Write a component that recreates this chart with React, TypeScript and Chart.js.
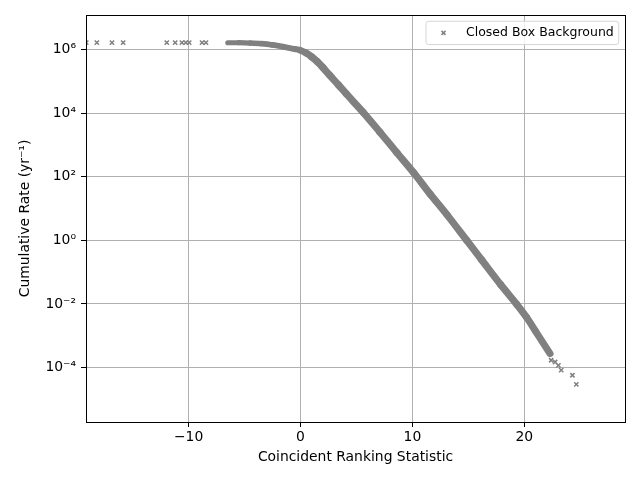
import React, { useEffect, useRef } from 'react';
import { Chart, registerables } from 'chart.js';

Chart.register(...registerables);

const SERIES_LABEL = 'Closed Box Background';
const X_TITLE = 'Coincident Ranking Statistic';
const Y_TITLE = 'Cumulative Rate (yr\u207B\u00B9)';

// dense part of the background
const bandX = [-6.5, -5.5, -4.5, -3.5, -2.5, -1.5, -0.5, 0, 0.5, 1.0, 1.5, 2.0, 2.6, 3.4, 4.1, 5.6, 7.1, 8.6, 10.1, 11.6, 13.1, 14.85, 16.2, 17.9, 19.3, 20.2, 21.0, 22.3];
const bandY = [1.62e6, 1.62e6, 1.58e6, 1.51e6, 1.38e6, 1.2e6, 1.02e6, 9.3e5, 7.66e5, 5.82e5, 4.11e5, 2.69e5, 1.55e5, 7.6e4, 3.98e4, 1.05e4, 2.5e3, 575, 135, 28, 6.3, 1.0, 0.24, 0.04, 0.01, 3.8e-3, 1.4e-3, 2.75e-4];

// isolated events on the left (low ranking statistic)
const leftX = [-19.15, -18.2, -16.85, -15.85, -11.95, -11.2, -10.6, -10.25, -9.95, -8.8, -8.45];
const leftY = [1.62e6, 1.62e6, 1.62e6, 1.62e6, 1.62e6, 1.62e6, 1.62e6, 1.62e6, 1.62e6, 1.62e6, 1.62e6];

// isolated events in the tail
const tailX = [22.4, 22.75, 23.05, 23.3, 24.3, 24.65];
const tailY = [1.7e-4, 1.5e-4, 1.17e-4, 8.3e-5, 5.75e-5, 2.95e-5];

const xTicks = [-10, 0, 10, 20];
const yTickExps = [-4, -2, 0, 2, 4, 6];

const X_MIN = -19.17;
const X_MAX = 29.0;
const Y_MIN = Math.pow(10, -5.71);
const Y_MAX = Math.pow(10, 7.08);

const GRAY = '#808080';
const FONT = 'DejaVu Sans';

const SUP: Record<string, string> = {
  '-': '\u207B', '0': '\u2070', '1': '\u00B9', '2': '\u00B2', '3': '\u00B3',
  '4': '\u2074', '5': '\u2075', '6': '\u2076', '7': '\u2077', '8': '\u2078', '9': '\u2079',
};
const sup = (n: number) => String(n).split('').map((c) => SUP[c] ?? c).join('');

const zip = (xs: number[], ys: number[]) => xs.map((x, i) => ({ x, y: ys[i] }));

function drawX(ctx: CanvasRenderingContext2D, x: number, y: number, r: number) {
  ctx.beginPath();
  ctx.moveTo(x - r, y - r);
  ctx.lineTo(x + r, y + r);
  ctx.moveTo(x - r, y + r);
  ctx.lineTo(x + r, y - r);
  ctx.stroke();
}

const framePlugin = {
  id: 'frameAndLegend',
  afterDraw(chart: any) {
    const ctx: CanvasRenderingContext2D = chart.ctx;
    const ca = chart.chartArea;
    ctx.save();
    ctx.strokeStyle = '#000';
    ctx.lineWidth = 1;
    ctx.strokeRect(Math.round(ca.left) + 0.5, Math.round(ca.top) + 0.5, Math.round(ca.right - ca.left), Math.round(ca.bottom - ca.top));

    const fs = 12.5;
    ctx.font = `${fs}px "${FONT}"`;
    const tw = ctx.measureText(SERIES_LABEL).width;
    const w = fs * (0.4 * 2 + 2 + 0.8) + tw;
    const h = 23.3;
    const right = ca.right - fs * 0.5;
    const top = ca.top + fs * 0.5;
    const left = right - w;
    const r = 2.5;
    ctx.beginPath();
    ctx.moveTo(left + r, top);
    ctx.lineTo(right - r, top);
    ctx.arcTo(right, top, right, top + r, r);
    ctx.lineTo(right, top + h - r);
    ctx.arcTo(right, top + h, right - r, top + h, r);
    ctx.lineTo(left + r, top + h);
    ctx.arcTo(left, top + h, left, top + h - r, r);
    ctx.lineTo(left, top + r);
    ctx.arcTo(left, top, left + r, top, r);
    ctx.closePath();
    ctx.fillStyle = 'rgba(255,255,255,0.8)';
    ctx.fill();
    ctx.strokeStyle = '#d6d6d6';
    ctx.lineWidth = 1;
    ctx.stroke();

    ctx.strokeStyle = GRAY;
    ctx.lineWidth = 1.5;
    drawX(ctx, left + fs * 1.4, top + h / 2, 2);

    ctx.fillStyle = '#000';
    ctx.textBaseline = 'middle';
    ctx.textAlign = 'left';
    ctx.fillText(SERIES_LABEL, left + fs * 3.2, top + h / 2);
    ctx.restore();
  },
};

export default function App() {
  const ref = useRef<HTMLCanvasElement | null>(null);

  useEffect(() => {
    if (!ref.current) return;
    const markerDs = (data: { x: number; y: number }[]) => ({
      label: SERIES_LABEL,
      data,
      showLine: false,
      pointStyle: 'crossRot' as const,
      pointRadius: 3,
      pointBorderWidth: 1.5,
      pointBorderColor: GRAY,
      pointBackgroundColor: GRAY,
      borderColor: GRAY,
      backgroundColor: GRAY,
    });
    const chart = new Chart(ref.current, {
      type: 'scatter',
      data: {
        datasets: [
          {
            label: SERIES_LABEL,
            data: zip(bandX, bandY),
            showLine: true,
            pointRadius: 0,
            borderColor: GRAY,
            backgroundColor: GRAY,
            borderWidth: 6,
            borderCapStyle: 'round',
            borderJoinStyle: 'round',
            tension: 0.3,
            segment: {
              borderWidth: (c: any) => {
                const dx = c.p1.x - c.p0.x;
                const dy = c.p1.y - c.p0.y;
                const L = Math.hypot(dx, dy) || 1;
                return 5.1 * (Math.abs(dx) + Math.abs(dy)) / L;
              },
            },
          } as any,
          markerDs(zip(leftX, leftY)),
          markerDs(zip(tailX, tailY)),
        ],
      },
      options: {
        responsive: false,
        animation: false,
        devicePixelRatio: 1,
        layout: { padding: { top: 15, right: 15, left: 0, bottom: 0 } },
        plugins: { legend: { display: false }, tooltip: { enabled: false } },
        scales: {
          x: {
            type: 'linear',
            min: X_MIN,
            max: X_MAX,
            afterBuildTicks: (s: any) => {
              s.ticks = xTicks.map((v) => ({ value: v }));
            },
            afterFit: (s: any) => {
              s.height = 58;
            },
            ticks: {
              color: '#000',
              font: { family: FONT, size: 13.9 },
              padding: 2,
              maxRotation: 0,
              autoSkip: false,
              callback: (v: any) => (Number(v) < 0 ? '\u2212' + Math.abs(Number(v)) : String(v)),
            },
            grid: { color: '#b0b0b0', lineWidth: 1, tickColor: '#000', tickLength: 5, tickWidth: 1 },
            border: { color: '#000', width: 1 },
            title: {
              display: true,
              text: X_TITLE,
              color: '#000',
              font: { family: FONT, size: 13.9 },
              padding: { top: 0, bottom: 14.7 },
            },
          },
          y: {
            type: 'logarithmic',
            min: Y_MIN,
            max: Y_MAX,
            afterBuildTicks: (s: any) => {
              s.ticks = yTickExps.map((e) => ({ value: Math.pow(10, e) }));
            },
            afterFit: (s: any) => {
              s.width = 86;
            },
            ticks: {
              color: '#000',
              font: { family: FONT, size: 13.9 },
              padding: 5,
              autoSkip: false,
              callback: (v: any) => '10' + sup(Math.round(Math.log10(Number(v)))),
            },
            grid: { color: '#b0b0b0', lineWidth: 1, tickColor: '#000', tickLength: 5, tickWidth: 1 },
            border: { color: '#000', width: 1 },
            title: {
              display: true,
              text: Y_TITLE,
              color: '#000',
              font: { family: FONT, size: 13.9 },
              padding: { top: 16.7, bottom: 0 },
            },
          },
        },
      },
      plugins: [framePlugin],
    });
    return () => chart.destroy();
  }, []);

  return (
    <div style={{ position: 'fixed', left: 0, top: 0, width: 640, height: 480, background: '#fff' }}>
      <canvas ref={ref} width={640} height={480} style={{ width: 640, height: 480, display: 'block' }} />
    </div>
  );
}
